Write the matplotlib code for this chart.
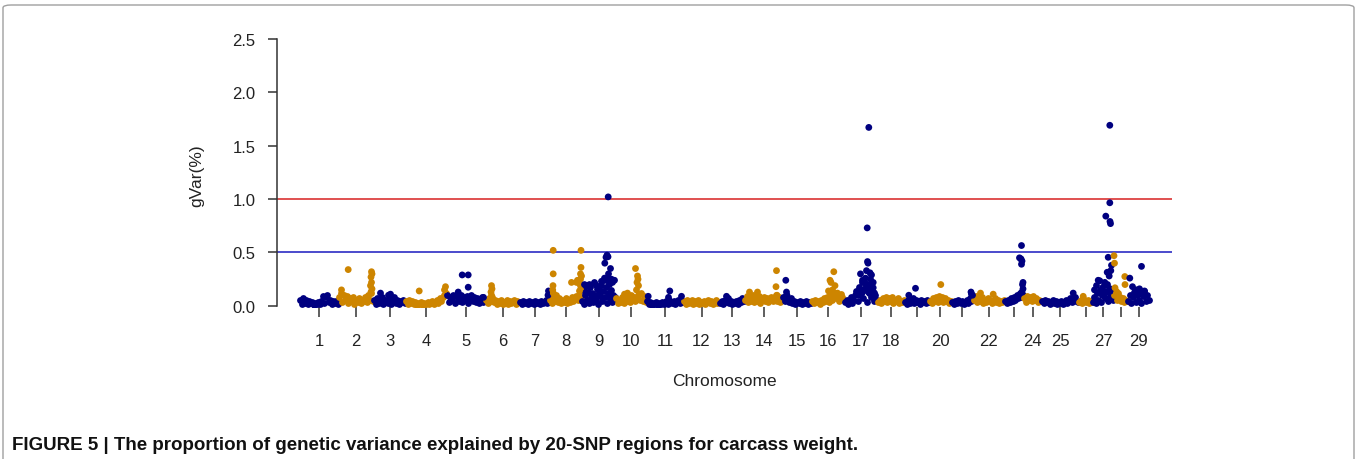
import matplotlib
matplotlib.use("Agg")
import matplotlib.pyplot as plt
from matplotlib.patches import FancyBboxPatch
import numpy as np

# chromosome widths (plot units), tick labels shown
chrom_len = [39, 35, 32, 41, 39, 34, 30, 32, 34, 31, 37, 36, 25, 38, 29,
             33, 33, 27, 25, 22, 22, 31, 19, 18, 37, 14, 21, 14, 22]
tick_labels = ['1', '2', '3', '4', '5', '6', '7', '8', '9', '10', '11', '12',
               '13', '14', '15', '16', '17', '18', '', '20', '', '22', '',
               '24', '25', '', '27', '', '29']

# background gVar values along each chromosome (read left to right)
band = [
    [0.06, 0.02, 0.07, 0.03, 0.06, 0.02, 0.05, 0.03, 0.04, 0.01, 0.03, 0.02, 0.04,
     0.02, 0.05, 0.09, 0.03, 0.08, 0.1, 0.04, 0.06, 0.02, 0.05, 0.03, 0.05, 0.02],
    [0.08, 0.12, 0.04, 0.1, 0.06, 0.09, 0.03, 0.07, 0.05, 0.08, 0.02, 0.06, 0.04,
     0.07, 0.03, 0.06, 0.05, 0.08, 0.04, 0.1, 0.06, 0.12, 0.05],
    [0.06, 0.02, 0.07, 0.03, 0.05, 0.08, 0.02, 0.06, 0.04, 0.03, 0.07, 0.02, 0.05,
     0.08, 0.03, 0.06, 0.02, 0.05, 0.04, 0.06, 0.03],
    [0.05, 0.02, 0.06, 0.03, 0.05, 0.02, 0.04, 0.01, 0.03, 0.02, 0.04, 0.01, 0.03,
     0.02, 0.04, 0.02, 0.03, 0.05, 0.02, 0.04, 0.06, 0.03, 0.07, 0.05, 0.08, 0.1, 0.12],
    [0.1, 0.04, 0.08, 0.06, 0.1, 0.03, 0.09, 0.07, 0.05, 0.1, 0.04, 0.08, 0.06,
     0.09, 0.03, 0.07, 0.1, 0.05, 0.08, 0.04, 0.07, 0.03, 0.06, 0.08, 0.04, 0.06],
    [0.06, 0.03, 0.07, 0.05, 0.08, 0.04, 0.06, 0.02, 0.05, 0.03, 0.06, 0.02, 0.04,
     0.03, 0.06, 0.02, 0.05, 0.03, 0.04, 0.06, 0.02, 0.05, 0.04],
    [0.04, 0.02, 0.05, 0.03, 0.04, 0.02, 0.05, 0.03, 0.04, 0.02, 0.05, 0.03, 0.04,
     0.02, 0.05, 0.03, 0.04, 0.06, 0.03, 0.08],
    [0.06, 0.03, 0.08, 0.05, 0.1, 0.04, 0.07, 0.03, 0.06, 0.04, 0.07, 0.03, 0.06,
     0.04, 0.08, 0.05, 0.07, 0.09, 0.06, 0.1, 0.08],
    [0.05, 0.15, 0.02, 0.1, 0.2, 0.06, 0.13, 0.03, 0.18, 0.08, 0.12, 0.04, 0.22,
     0.1, 0.06, 0.16, 0.02, 0.12, 0.09, 0.2, 0.05, 0.14, 0.24, 0.08, 0.18, 0.03,
     0.12, 0.21, 0.07, 0.15, 0.04, 0.1, 0.06, 0.08],
    [0.07, 0.03, 0.06, 0.04, 0.08, 0.03, 0.06, 0.05, 0.09, 0.04, 0.1, 0.06, 0.08,
     0.05, 0.07, 0.1, 0.06, 0.12, 0.05, 0.09, 0.04],
    [0.05, 0.02, 0.04, 0.01, 0.03, 0.02, 0.04, 0.01, 0.03, 0.02, 0.04, 0.02, 0.03,
     0.05, 0.02, 0.06, 0.04, 0.03, 0.05, 0.02, 0.04, 0.06, 0.03, 0.05, 0.04],
    [0.05, 0.02, 0.06, 0.03, 0.04, 0.06, 0.02, 0.05, 0.03, 0.06, 0.02, 0.04, 0.03,
     0.05, 0.02, 0.04, 0.06, 0.03, 0.05, 0.02, 0.04, 0.06, 0.03, 0.04],
    [0.03, 0.05, 0.02, 0.06, 0.04, 0.07, 0.03, 0.05, 0.02, 0.04, 0.03, 0.05, 0.02,
     0.06, 0.04, 0.07, 0.05],
    [0.06, 0.09, 0.04, 0.08, 0.05, 0.1, 0.04, 0.07, 0.05, 0.09, 0.03, 0.06, 0.08,
     0.05, 0.07, 0.04, 0.06, 0.08, 0.05, 0.07, 0.1, 0.05, 0.08, 0.04, 0.06],
    [0.08, 0.05, 0.1, 0.06, 0.04, 0.07, 0.03, 0.05, 0.02, 0.04, 0.03, 0.05, 0.02,
     0.04, 0.03, 0.05, 0.02, 0.04, 0.03],
    [0.05, 0.03, 0.06, 0.04, 0.05, 0.02, 0.06, 0.04, 0.07, 0.05, 0.08, 0.04, 0.1,
     0.06, 0.09, 0.12, 0.07, 0.1, 0.05, 0.11, 0.08, 0.06],
    [0.04, 0.06, 0.02, 0.05, 0.08, 0.03, 0.06, 0.1, 0.14, 0.05, 0.18, 0.1, 0.22,
     0.07, 0.15, 0.2, 0.04, 0.12, 0.17, 0.08, 0.13, 0.05, 0.1, 0.06],
    [0.04, 0.06, 0.03, 0.07, 0.05, 0.08, 0.04, 0.07, 0.05, 0.08, 0.03, 0.06, 0.05,
     0.07, 0.03, 0.05, 0.04, 0.06],
    [0.04, 0.02, 0.06, 0.03, 0.05, 0.07, 0.03, 0.06, 0.04, 0.05, 0.02, 0.06, 0.04,
     0.05, 0.03, 0.06, 0.04],
    [0.05, 0.03, 0.07, 0.05, 0.08, 0.04, 0.09, 0.06, 0.08, 0.04, 0.07, 0.05, 0.06,
     0.03, 0.05],
    [0.04, 0.02, 0.05, 0.03, 0.06, 0.04, 0.03, 0.05, 0.02, 0.04, 0.06, 0.03, 0.07,
     0.05, 0.08],
    [0.06, 0.09, 0.04, 0.07, 0.05, 0.08, 0.03, 0.06, 0.04, 0.07, 0.05, 0.06, 0.03,
     0.05, 0.07, 0.04, 0.06, 0.03, 0.05, 0.04, 0.06],
    [0.05, 0.03, 0.06, 0.04, 0.07, 0.05, 0.08, 0.06, 0.1, 0.07, 0.12, 0.08, 0.1],
    [0.07, 0.04, 0.09, 0.06, 0.08, 0.05, 0.09, 0.06, 0.07, 0.04, 0.06, 0.05],
    [0.05, 0.03, 0.06, 0.04, 0.05, 0.02, 0.04, 0.06, 0.03, 0.05, 0.02, 0.04, 0.03,
     0.05, 0.02, 0.04, 0.06, 0.03, 0.05, 0.07, 0.04, 0.06, 0.08, 0.05, 0.04],
    [0.04, 0.06, 0.03, 0.07, 0.05, 0.04, 0.06, 0.03, 0.05, 0.04],
    [0.04, 0.08, 0.03, 0.12, 0.06, 0.15, 0.04, 0.1, 0.2, 0.07, 0.13, 0.05, 0.17,
     0.09, 0.12, 0.06],
    [0.1, 0.14, 0.06, 0.12, 0.08, 0.05, 0.07, 0.04, 0.06, 0.05],
    [0.05, 0.1, 0.03, 0.08, 0.13, 0.04, 0.1, 0.06, 0.12, 0.03, 0.09, 0.14, 0.05,
     0.1, 0.06],
]

# standout regions: chromosome, offset within chromosome, gVar(%)
peak_chr = [2, 2, 2, 2, 2, 2, 2, 2, 2,
            3, 3, 3, 4, 4, 4, 5, 5, 5, 5, 5, 6, 6, 6, 6, 7, 7,
            8, 8, 8, 8, 8, 8, 8, 8, 8, 8, 8, 8, 8, 8, 8, 8,
            9, 9, 9, 9, 9, 9, 9, 9, 9, 9, 9, 9, 9, 9, 9, 9, 9, 9, 9, 9,
            10, 10, 10, 10, 10, 10, 10, 10, 11, 11, 11, 11, 13,
            14, 14, 14, 14, 14, 15, 15, 15, 16, 16, 16, 16, 16, 16, 16,
            17, 17, 17, 17, 17, 17, 17, 17, 17, 17, 17, 17, 17, 17, 17, 17,
            17, 17, 17, 17, 17, 17,
            19, 19, 20, 21, 21, 21, 22, 22,
            23, 23, 23, 23, 23, 23, 23, 23, 23, 25, 26,
            27, 27, 27, 27, 27, 27, 27, 27, 27, 27, 27, 27, 27, 27, 27, 27,
            27, 27, 27, 27, 27,
            28, 28, 28, 28, 28, 28, 29, 29, 29, 29, 29, 29]
peak_pos = [9.7, 3, 33, 33.5, 32.5, 33, 32, 33.5, 32.5,
            7, 15, 17, 13.7, 40, 39, 15.7, 21.7, 21.7, 11.7, 37, 6, 6.5, 5.5, 6, 29, 28.5,
            3.7, 3.7, 3.5, 3.2, 3.8, 22, 27, 28, 31.5, 31.5, 31, 32, 31, 30.5, 31.5, 30,
            26.7, 25.5, 26.5, 24.5, 23.3, 29, 27, 26.7, 30, 33, 31, 20, 23, 13, 15, 8,
            3, 5, 28, 18,
            20, 22, 22.5, 21.5, 23, 21, 9, 12, 1.7, 23.3, 35, 22, 7,
            5, 13, 32, 31.5, 32.5, 3.3, 4, 4.5, 22.3, 18.5, 19.5, 23.5, 17, 21, 26,
            24.3, 22.7, 23, 23.5, 22, 16, 25.5, 27, 20.3, 18, 25, 28.7, 28.7, 15, 17.5,
            22, 26, 21, 19, 24, 30, 12,
            4.3, 11, 11.3, 19.5, 21, 20, 7, 19.7,
            17, 15, 16.5, 17.5, 17, 18.5, 18, 18.5, 17.5, 31.7, 4.7,
            17.3, 17.3, 13.3, 17.5, 18, 15.7, 19, 18.3, 14.7, 16.7, 5.7, 7.3, 12.3, 15,
            4, 10, 2, 13, 8, 18, 11,
            0.5, 1, 11.3, 11.5, 1.5, 3, 14, 2.3, 5, 9, 12, 17]
peak_val = [0.34, 0.15, 0.32, 0.30, 0.27, 0.22, 0.19, 0.16, 0.13,
            0.12, 0.10, 0.11, 0.14, 0.18, 0.15, 0.29, 0.29, 0.175, 0.13, 0.08,
            0.19, 0.16, 0.13, 0.10, 0.14, 0.10,
            0.52, 0.30, 0.19, 0.15, 0.12, 0.22, 0.22, 0.24, 0.52, 0.36, 0.30, 0.28,
            0.25, 0.20, 0.17, 0.14,
            1.02, 0.475, 0.46, 0.455, 0.40, 0.35, 0.30, 0.25, 0.25, 0.24, 0.22, 0.23,
            0.26, 0.21, 0.19, 0.20, 0.20, 0.18, 0.20, 0.17,
            0.35, 0.28, 0.25, 0.22, 0.19, 0.15, 0.11, 0.12, 0.09, 0.14, 0.09, 0.08, 0.09,
            0.13, 0.13, 0.33, 0.18, 0.10, 0.24, 0.13, 0.10,
            0.32, 0.24, 0.22, 0.19, 0.14, 0.15, 0.12,
            1.67, 0.73, 0.415, 0.40, 0.33, 0.30, 0.31, 0.29, 0.22, 0.24, 0.20, 0.22,
            0.17, 0.14, 0.12, 0.18, 0.25, 0.26, 0.15, 0.13, 0.12, 0.11,
            0.10, 0.165, 0.20, 0.13, 0.10, 0.11, 0.12, 0.11,
            0.565, 0.45, 0.44, 0.42, 0.39, 0.22, 0.20, 0.16, 0.13, 0.12, 0.09,
            1.69, 0.965, 0.84, 0.79, 0.77, 0.455, 0.38, 0.33, 0.315, 0.28, 0.24, 0.235,
            0.22, 0.20, 0.19, 0.17, 0.15, 0.13, 0.12, 0.14, 0.10,
            0.47, 0.40, 0.275, 0.20, 0.17, 0.12, 0.37, 0.26, 0.18, 0.15, 0.16, 0.14]

navy = '#000080'
orange = '#CD8500'
msize = 24

starts = np.concatenate([[0], np.cumsum(chrom_len)[:-1]])
cols = [navy if i % 2 == 0 else orange for i in range(len(chrom_len))]

fig = plt.figure(figsize=(13.57, 4.6), dpi=100)
W, H = 1357, 460
# axes placed in pixel terms: x 277..1172, y 29..308
ax = fig.add_axes([277 / W, (H - 308) / H, (1172 - 277) / W, (308 - 29) / H])

for i, vals in enumerate(band):
    n = len(vals)
    x = starts[i] + (np.arange(n) + 0.5) * chrom_len[i] / n
    ax.scatter(x, vals, s=msize, color=cols[i], linewidths=0, zorder=2)

pc = np.array(peak_chr) - 1
px = starts[pc] + np.array(peak_pos)
pcol = [cols[c] for c in pc]
ax.scatter(px, peak_val, s=msize, c=pcol, linewidths=0, zorder=3)

ax.axhline(1.0, color='#E05050', lw=1.4, zorder=1)
ax.axhline(0.5, color='#4B4BCC', lw=1.4, zorder=1)

ax.set_xlim(-22.5, 872.5)
ax.set_ylim(-0.01, 2.6)

for s in ['top', 'right', 'bottom']:
    ax.spines[s].set_visible(False)
ax.spines['left'].set_bounds(0, 2.5)
ax.spines['left'].set_color('#333333')
ax.spines['left'].set_linewidth(1.1)

ax.set_yticks([0, 0.5, 1.0, 1.5, 2.0, 2.5])
ax.set_yticklabels(['0.0', '0.5', '1.0', '1.5', '2.0', '2.5'])
centres = starts + np.array(chrom_len) / 2
ax.set_xticks(centres)
ax.set_xticklabels(tick_labels)
ax.tick_params(axis='y', length=6.5, width=1.1, color='#333333', pad=9,
               labelsize=12, labelcolor='#222222')
ax.tick_params(axis='x', length=7, width=1.1, color='#333333', pad=12,
               labelsize=12, labelcolor='#222222')
for t in ax.get_xticklabels() + ax.get_yticklabels():
    t.set_family('Liberation Sans')

ax.set_ylabel('gVar(%)', fontsize=12.5, family='Liberation Sans', color='#222222')
ax.yaxis.set_label_coords(-(277 - 204) / (1172 - 277), (308 - 176) / (308 - 29))
fig.text(724 / W, 1 - 382 / H, 'Chromosome', fontsize=12.5, family='Liberation Sans',
         color='#222222', ha='center', va='center')

fig.text(12 / W, 1 - 446 / H,
         'FIGURE 5 | The proportion of genetic variance explained by 20-SNP regions for carcass weight.',
         fontsize=13.5, fontweight='bold', family='Liberation Sans',
         ha='left', va='center', color='#111111')

frame = FancyBboxPatch((3 / W, -0.1), (W - 6) / W, (H - 6) / H + 0.1,
                       boxstyle='round,pad=0,rounding_size=0.006',
                       transform=fig.transFigure, fill=False,
                       edgecolor='#A0A0A0', lw=1.0)
fig.patches.append(frame)

fig.savefig('out.png', dpi=100)
